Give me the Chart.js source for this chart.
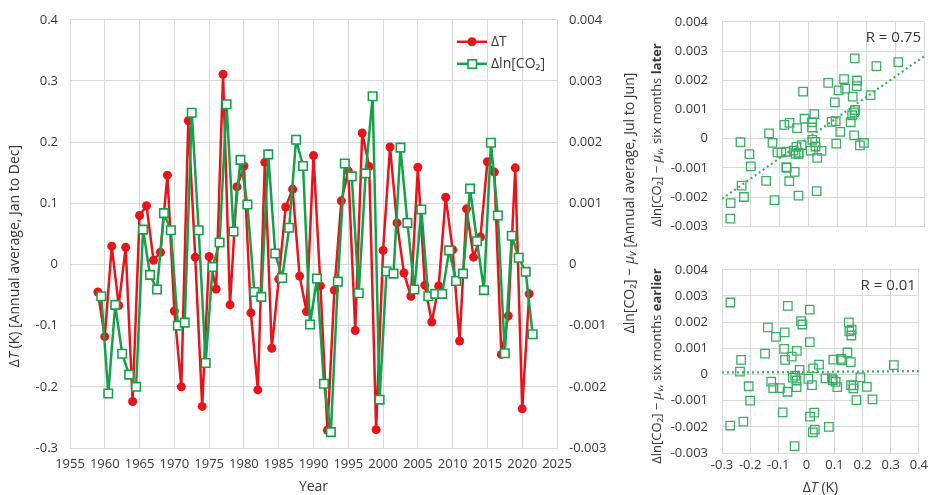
<!DOCTYPE html>
<html>
<head>
<meta charset="utf-8">
<script src="https://cdn.jsdelivr.net/npm/chart.js@4.4.0/dist/chart.umd.min.js"></script>
<style>
  body { margin: 0; background: #fff; }
  #wrap { position: relative; width: 932px; height: 495px; overflow: hidden; }
  canvas { position: absolute; }
</style>
</head>
<body>
<div id="wrap">
  <canvas id="main" width="640" height="495" style="left:0;top:0"></canvas>
  <canvas id="later" width="292" height="248" style="left:640px;top:0"></canvas>
  <canvas id="earlier" width="292" height="247" style="left:640px;top:248px"></canvas>
</div>
<script>
const years = [1959, 1960, 1961, 1962, 1963, 1964, 1965, 1966, 1967, 1968,
  1969, 1970, 1971, 1972, 1973, 1974, 1975, 1976, 1977, 1978,
  1979, 1980, 1981, 1982, 1983, 1984, 1985, 1986, 1987, 1988,
  1989, 1990, 1991, 1992, 1993, 1994, 1995, 1996, 1997, 1998,
  1999, 2000, 2001, 2002, 2003, 2004, 2005, 2006, 2007, 2008,
  2009, 2010, 2011, 2012, 2013, 2014, 2015, 2016, 2017, 2018,
  2019, 2020, 2021];

// annual mean Jan-Dec (K)
const deltaT = [-0.045, -0.118, 0.030, -0.067, 0.028, -0.224, 0.080, 0.096, 0.007, 0.020,
  0.146, -0.076, -0.200, 0.235, 0.012, -0.232, 0.013, -0.040, 0.311, -0.066,
  0.127, 0.161, -0.079, -0.205, 0.167, -0.137, -0.024, 0.094, 0.123, -0.019,
  -0.077, 0.178, -0.035, -0.271, -0.042, 0.104, 0.153, -0.108, 0.215, 0.160,
  -0.270, 0.023, 0.192, 0.068, -0.014, -0.052, 0.159, -0.034, -0.094, -0.035,
  0.110, 0.024, -0.125, 0.091, 0.012, 0.045, 0.168, 0.151, -0.147, -0.084,
  0.158, -0.236, -0.048];

// Jul-Jun mean, plotted half a year after the matching year
const dlnCO2 = [-0.00052, -0.00211, -0.00066, -0.00146, -0.00180, -0.00200, 0.00057, -0.00017, -0.00041, 0.00084,
  0.00056, -0.00100, -0.00095, 0.00248, 0.00056, -0.00161, -0.00004, 0.00036, 0.00262, 0.00054,
  0.00171, 0.00098, -0.00045, -0.00053, 0.00180, 0.00018, -0.00022, 0.00060, 0.00204, 0.00161,
  -0.00098, -0.00023, -0.00195, -0.00274, -0.00028, 0.00165, 0.00144, -0.00047, 0.00149, 0.00275,
  -0.00221, -0.00011, -0.00015, 0.00191, 0.00068, -0.00041, 0.00090, -0.00052, -0.00048, -0.00048,
  0.00023, -0.00027, -0.00015, 0.00124, 0.00038, -0.00042, 0.00199, 0.00080, -0.00145, 0.00047,
  0.00011, -0.00012, -0.00114];

const yearTicks = [1955, 1960, 1965, 1970, 1975, 1980, 1985, 1990, 1995, 2000, 2005, 2010, 2015, 2020, 2025];
const tempTicks = [-0.3, -0.2, -0.1, 0, 0.1, 0.2, 0.3, 0.4];
const co2Ticks = [-0.003, -0.002, -0.001, 0, 0.001, 0.002, 0.003, 0.004];
const rLater = 'R = 0.75';
const rEarlier = 'R = 0.01';

const red = '#e8141c';
const green = '#17a04a';
const scGreen = '#3aae63';
const gridCol = '#d9d9d9';
const ink = '#383838';
const FONT = "'Open Sans', sans-serif";

Chart.defaults.font.family = FONT;
Chart.defaults.font.size = 13;
Chart.defaults.color = ink;

function fmt(v) { return v === 0 ? '0' : String(+v.toFixed(4)); }
function fixTicks(list) { return s => { s.ticks = list.map(v => ({ value: v })); }; }

// text made of pieces with different fonts, centred on x,y
function richText(ctx, parts, x, y, rotate) {
  ctx.save();
  ctx.translate(x, y);
  if (rotate) ctx.rotate(-Math.PI / 2);
  ctx.fillStyle = ink;
  ctx.textBaseline = 'middle';
  ctx.textAlign = 'left';
  const fontOf = p => (p.i ? 'italic ' : '') + (p.b ? 'bold ' : '') + (p.s || 14) + 'px ' + FONT;
  let w = 0;
  parts.forEach(p => { ctx.font = fontOf(p); p.w = ctx.measureText(p.t).width; w += p.w; });
  let cx = -w / 2;
  parts.forEach(p => { ctx.font = fontOf(p); ctx.fillText(p.t, cx, p.dy || 0); cx += p.w; });
  ctx.restore();
}

function co2Title(tail, boldWord, size) {
  const parts = [
    { t: 'Δln[CO₂] − ', s: size },
    { t: 'μ', i: true, s: size },
    { t: 'v', i: true, s: size - 4, dy: 3 },
    { t: tail, s: size }
  ];
  if (boldWord) parts.push({ t: boldWord, b: true, s: size });
  return parts;
}

const mainDecor = {
  id: 'mainDecor',
  afterDraw(chart) {
    const ctx = chart.ctx;
    const a = chart.chartArea;
    richText(ctx, [{ t: 'Δ' }, { t: 'T', i: true }, { t: ' (K) [Annual average, Jan to Dec]' }], 15, 256, true);
    richText(ctx, co2Title(' [Annual average, Jul to Jun]', null, 14), 630, 203, true);
    richText(ctx, [{ t: 'Year' }], (a.left + a.right) / 2, 487, false);

    // legend
    const lx = a.right - 100;
    const rows = [{ y: a.top + 22, col: red, label: 'ΔT', sq: false },
                  { y: a.top + 44, col: green, label: 'Δln[CO₂]', sq: true }];
    rows.forEach(r => {
      ctx.save();
      ctx.strokeStyle = r.col;
      ctx.lineWidth = 2.5;
      ctx.beginPath(); ctx.moveTo(lx, r.y); ctx.lineTo(lx + 30, r.y); ctx.stroke();
      if (r.sq) {
        ctx.fillStyle = '#fff';
        ctx.lineWidth = 1.6;
        ctx.fillRect(lx + 11, r.y - 4, 8.5, 8.5);
        ctx.strokeRect(lx + 11, r.y - 4, 8.5, 8.5);
      } else {
        ctx.fillStyle = r.col;
        ctx.beginPath(); ctx.arc(lx + 15, r.y, 4.5, 0, Math.PI * 2); ctx.fill();
      }
      ctx.fillStyle = ink;
      ctx.font = '14px ' + FONT;
      ctx.textBaseline = 'middle';
      ctx.fillText(r.label, lx + 34, r.y);
      ctx.restore();
    });
  }
};

new Chart(document.getElementById('main'), {
  type: 'line',
  data: {
    datasets: [
      {
        label: 'ΔT',
        data: years.map((y, i) => ({ x: y, y: deltaT[i] })),
        yAxisID: 'y',
        borderColor: red,
        backgroundColor: red,
        borderWidth: 2.5,
        borderJoinStyle: 'round',
        pointRadius: 4.5,
        pointBorderWidth: 0,
        order: 1
      },
      {
        label: 'Δln[CO₂]',
        data: years.map((y, i) => ({ x: y + 0.5, y: dlnCO2[i] })),
        yAxisID: 'y1',
        borderColor: green,
        borderJoinStyle: 'round',
        pointBorderColor: green,
        pointBackgroundColor: '#fff',
        pointStyle: 'rect',
        pointRadius: 6,
        pointBorderWidth: 1.6,
        borderWidth: 2.5,
        order: 0
      }
    ]
  },
  options: {
    responsive: false,
    animation: false,
    events: [],
    layout: { padding: { top: 17 } },
    plugins: { legend: { display: false }, tooltip: { enabled: false } },
    scales: {
      x: {
        type: 'linear', min: 1955, max: 2025,
        afterBuildTicks: fixTicks(yearTicks),
        afterFit: s => { s.height = 47; },
        grid: { color: gridCol, drawTicks: false },
        border: { color: gridCol },
        ticks: { padding: 8, maxRotation: 0, autoSkip: false, callback: v => String(v) }
      },
      y: {
        position: 'left', min: -0.3, max: 0.4,
        afterBuildTicks: fixTicks(tempTicks),
        afterFit: s => { s.width = 70; },
        grid: { color: gridCol, drawTicks: false },
        border: { color: gridCol },
        ticks: { padding: 12, callback: fmt }
      },
      y1: {
        position: 'right', min: -0.003, max: 0.004,
        afterBuildTicks: fixTicks(co2Ticks),
        afterFit: s => { s.width = 83; },
        grid: { drawOnChartArea: false, drawTicks: false },
        border: { display: false },
        ticks: { padding: 12, callback: fmt }
      }
    }
  },
  plugins: [mainDecor]
});

function fitLine(pts) {
  const n = pts.length;
  const mx = pts.reduce((s, p) => s + p.x, 0) / n;
  const my = pts.reduce((s, p) => s + p.y, 0) / n;
  let sxy = 0, sxx = 0;
  pts.forEach(p => { sxy += (p.x - mx) * (p.y - my); sxx += (p.x - mx) * (p.x - mx); });
  const k = sxy / sxx;
  return [tempTicks[0], tempTicks[tempTicks.length - 1]].map(x => ({ x: x, y: my + k * (x - mx) }));
}

function scatterChart(id, pts, rText, word, titleY, showX) {
  const decor = {
    id: 'decor',
    afterDraw(chart) {
      const ctx = chart.ctx;
      const a = chart.chartArea;
      ctx.save();
      ctx.fillStyle = ink;
      ctx.font = '15px ' + FONT;
      ctx.textAlign = 'right';
      ctx.textBaseline = 'middle';
      ctx.fillText(rText, a.right - 3, a.top + 16);
      ctx.restore();
      richText(ctx, co2Title(', six months ', word, 13), a.left - 65, titleY, true);
      if (showX) richText(ctx, [{ t: 'Δ' }, { t: 'T', i: true }, { t: ' (K)' }], (a.left + a.right) / 2, 240, false);
    }
  };
  new Chart(document.getElementById(id), {
    type: 'scatter',
    data: {
      datasets: [
        {
          data: pts,
          pointStyle: 'rect',
          pointRadius: 6,
          pointBorderWidth: 1.3,
          pointBorderColor: scGreen,
          pointBackgroundColor: 'rgba(255,255,255,0)'
        },
        {
          data: fitLine(pts),
          showLine: true,
          borderColor: scGreen,
          borderWidth: 2.2,
          borderDash: [2, 3],
          pointRadius: 0
        }
      ]
    },
    options: {
      responsive: false,
      animation: false,
      events: [],
      layout: { padding: showX ? { top: 10, right: 8 } : { top: 15, right: 8, bottom: 15 } },
      plugins: { legend: { display: false }, tooltip: { enabled: false } },
      scales: {
        x: {
          type: 'linear', min: -0.3, max: 0.4,
          afterBuildTicks: fixTicks(tempTicks),
          afterFit: s => { s.height = showX ? 42 : 0; },
          grid: { color: gridCol, drawTicks: false },
          border: { color: gridCol },
          ticks: { display: showX, padding: 4, maxRotation: 0, autoSkip: false, callback: fmt }
        },
        y: {
          min: -0.003, max: 0.004,
          afterBuildTicks: fixTicks(co2Ticks),
          afterFit: s => { s.width = 82; },
          grid: { color: gridCol, drawTicks: false },
          border: { color: gridCol },
          ticks: { padding: 14, callback: fmt }
        }
      }
    },
    plugins: [decor]
  });
}

// six months later: same-index CO2 value; earlier: the previous one
scatterChart('later', deltaT.map((t, i) => ({ x: t, y: dlnCO2[i] })), rLater, 'later', 135, false);
scatterChart('earlier', deltaT.slice(1).map((t, i) => ({ x: t, y: dlnCO2[i] })), rEarlier, 'earlier', 118, true);
</script>
</body>
</html>
